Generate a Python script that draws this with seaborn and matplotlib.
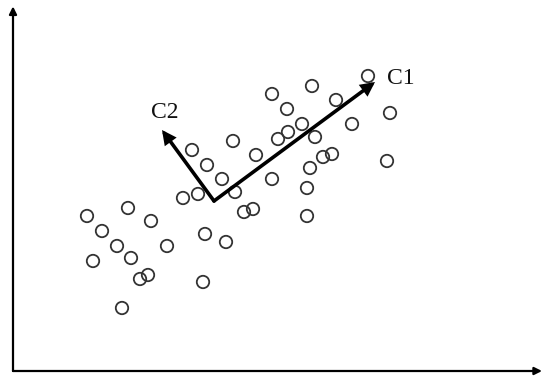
import seaborn as sns
import matplotlib.pyplot as plt
import pandas as pd

# point cloud (arbitrary units, origin at the lower-left axis corner)
x_vals = [74, 115, 138, 89, 104, 80, 118, 127, 135, 109, 154, 170, 185, 192,
          190, 213, 222, 231, 240, 179, 194, 209, 220, 243, 259, 259, 265, 274,
          275, 289, 302, 299, 297, 294, 294, 310, 319, 323, 339, 355, 377, 374]
y_vals = [155, 163, 150, 140, 125, 110, 113, 92, 96, 63, 125, 173, 177, 137,
          89, 129, 179, 159, 162, 221, 206, 192, 230, 216, 277, 192, 232, 262,
          239, 247, 234, 285, 203, 183, 155, 214, 217, 271, 247, 295, 258, 210]

# component arrows
origin = (201, 170)
c1_tip = (362, 289)
c2_tip = (149, 241)
c1_label_pos = (374, 292)
c2_label_pos = (138, 259)

x_range = (0, 529)
y_range = (0, 361)

df = pd.DataFrame({"x": x_vals, "y": y_vals})

sns.set_style("white")
plt.rcParams['font.family'] = ['Liberation Serif', 'DejaVu Serif']

fig = plt.figure(figsize=(5.5, 3.85), dpi=100)
ax = fig.add_axes([13 / 550, 14 / 385, 529 / 550, 361 / 385])
ax.set_xlim(*x_range)
ax.set_ylim(*y_range)

sns.scatterplot(data=df, x="x", y="y", ax=ax, marker="o", s=80,
                facecolor="none", edgecolor="#333333", linewidth=1.3)

# axes drawn as arrows
axis_arrow = dict(arrowstyle="-|>", color="black", lw=1.6, mutation_scale=11,
                  shrinkA=0, shrinkB=0)
ax.annotate("", xy=(1, 0), xytext=(0, 0), xycoords="axes fraction",
            arrowprops=axis_arrow, annotation_clip=False)
ax.annotate("", xy=(0, 1.01), xytext=(0, 0), xycoords="axes fraction",
            arrowprops=axis_arrow, annotation_clip=False)

comp_arrow = dict(arrowstyle="-|>", color="black", lw=2.6, mutation_scale=16,
                  shrinkA=0, shrinkB=0, joinstyle="miter")
ax.annotate("", xy=c1_tip, xytext=origin, arrowprops=comp_arrow)
ax.annotate("", xy=c2_tip, xytext=origin, arrowprops=comp_arrow)
ax.text(*c1_label_pos, "C1", fontsize=17, color="#111111", ha="left", va="center")
ax.text(*c2_label_pos, "C2", fontsize=17, color="#111111", ha="left", va="center")

ax.set_xlabel("")
ax.set_ylabel("")
ax.set_xticks([])
ax.set_yticks([])
sns.despine(ax=ax, left=True, bottom=True)

fig.savefig("out.png", dpi=100)
